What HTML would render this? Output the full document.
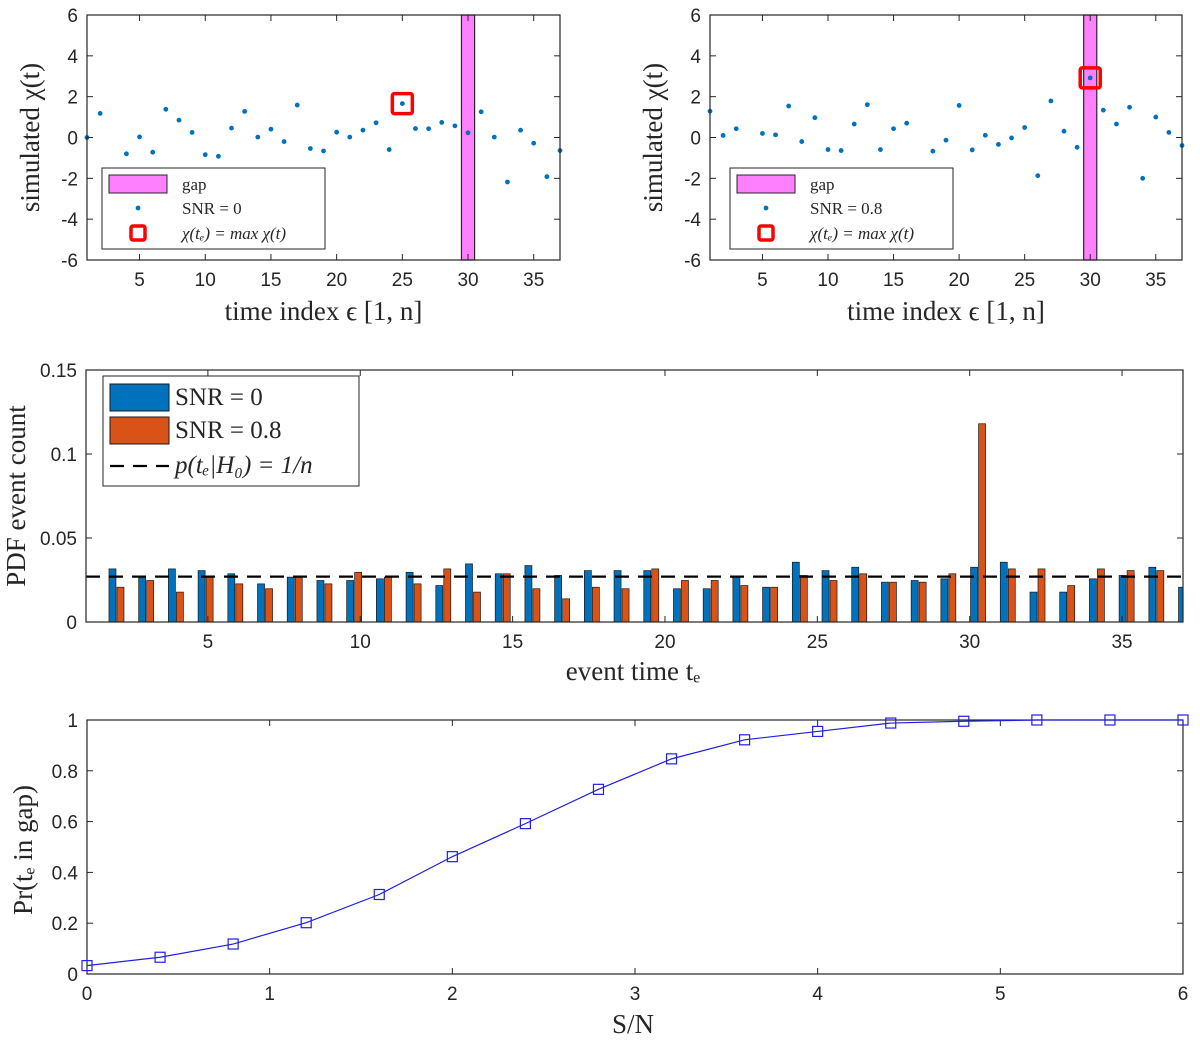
<!DOCTYPE html>
<html><head><meta charset="utf-8">
<style>
body{margin:0;background:#fff;}
svg{display:block;}
.tk{font-family:"Liberation Sans",sans-serif;font-size:19px;fill:#262626;}
.lb{font-family:"Liberation Serif",serif;fill:#262626;}
</style></head>
<body>
<svg id="fig" width="1200" height="1050" viewBox="0 0 1200 1050"></svg>
<script>
// ---- data ----
const tIdx = [1,2,3,4,5,6,7,8,9,10,11,12,13,14,15,16,17,18,19,20,21,22,23,24,25,26,27,28,29,30,31,32,33,34,35,36,37];
const chiSnr0 = [0,1.18,null,-0.8,0.03,-0.72,1.38,0.85,0.25,-0.84,-0.92,0.46,1.28,0.02,0.41,-0.2,1.59,-0.54,-0.66,0.26,0.02,0.36,0.72,-0.59,1.66,0.44,0.43,0.74,0.57,0.23,1.26,0.02,-2.18,0.36,-0.28,-1.92,-0.64];
const chiSnr08 = [1.29,0.1,0.43,null,0.2,0.13,1.54,-0.2,0.97,-0.59,-0.64,0.66,1.61,-0.59,0.43,0.70,null,-0.67,-0.13,1.57,-0.61,0.11,-0.34,-0.02,0.49,-1.87,1.79,0.31,-0.48,2.92,1.34,0.66,1.48,-2.0,1.0,0.25,-0.39];
const maxIdx0 = 25, maxIdx08 = 30;
const gapT = 30;
const scatterYTicks = [-6,-4,-2,0,2,4,6];
const scatterXTicks = [5,10,15,20,25,30,35];
const pdfSnr0 = [.0316,.0267,.0316,.0306,.0287,.0227,.0267,.0247,.0247,.0257,.0296,.0217,.0346,.0287,.0336,.0277,.0306,.0306,.0306,.0198,.0198,.0271,.0207,.0356,.0306,.0326,.0237,.0247,.0257,.0326,.0356,.0178,.0178,.0257,.0277,.0326,.0207];
const pdfSnr08 = [.0207,.0247,.0178,.0273,.0227,.0198,.0273,.0227,.0296,.0267,.0227,.0316,.0178,.0287,.0198,.0138,.0207,.0198,.0316,.0247,.0247,.0217,.0207,.0277,.0247,.0287,.0237,.0237,.0287,.118,.0316,.0316,.0217,.0316,.0306,.0306,null];
const nullLevel = 1/37;
const pdfYTicks = [0,0.05,0.1,0.15];
const pdfYLabels = ["0","0.05","0.1","0.15"];
const snrVals = [0,0.4,0.8,1.2,1.6,2.0,2.4,2.8,3.2,3.6,4.0,4.4,4.8,5.2,5.6,6.0];
const prGap = [0.033,0.066,0.118,0.202,0.313,0.462,0.592,0.727,0.847,0.922,0.955,0.988,0.995,1.0,1.0,1.0];
const prXTicks = [0,1,2,3,4,5,6];
const prYTicks = [0,0.2,0.4,0.6,0.8,1];

const NS="http://www.w3.org/2000/svg";
const svg=document.getElementById('fig');
function mk(tag,attrs,parent,text){const e=document.createElementNS(NS,tag);for(const k in attrs)e.setAttribute(k,attrs[k]);if(text!==undefined)e.textContent=text;(parent||svg).appendChild(e);return e;}
function lin(d0,d1,r0,r1){return v=>r0+(v-d0)*(r1-r0)/(d1-d0);}

function axesBox(g,L,T,R,B){
  const r=mk('rect',{x:L,y:T,width:R-L,height:B-T,fill:'none',stroke:'#262626','stroke-width':1.2},g);
  
  
}
function xTicks(g,ticks,xs,T,B,labels){
  ticks.forEach((t,i)=>{
    const x=xs(t);
    mk('line',{x1:x,y1:B,x2:x,y2:B-6,stroke:'#262626','stroke-width':1},g);
    mk('line',{x1:x,y1:T,x2:x,y2:T+6,stroke:'#262626','stroke-width':1},g);
    const tx=mk('text',{x:x,y:B+26,'text-anchor':'middle',class:'tk'},g,labels?labels[i]:String(t));
    
    
  });
}
function yTicks(g,ticks,ys,L,R,labels){
  ticks.forEach((t,i)=>{
    const y=ys(t);
    mk('line',{x1:L,y1:y,x2:L+6,y2:y,stroke:'#262626','stroke-width':1},g);
    mk('line',{x1:R,y1:y,x2:R-6,y2:y,stroke:'#262626','stroke-width':1},g);
    const tx=mk('text',{x:L-9,y:y+7,'text-anchor':'end',class:'tk'},g,labels?labels[i]:String(t));
    
    
  });
}

// ---- scatter panels ----
function scatter(L,R,vals,maxIdx,snrText,name,legL){
  const T=15,B=260;
  const g=mk('g',{});
  
  
  const xs=lin(1,37,L,R), ys=lin(-6,6,B,T);
  const gap=mk('rect',{x:xs(gapT-0.5),y:T,width:xs(gapT+0.5)-xs(gapT-0.5),height:B-T,fill:'#ff80ff',stroke:'#262626','stroke-width':1.2},g);
  
  
  tIdx.forEach((t,i)=>{
    if(vals[i]===null)return;
    const c=mk('circle',{cx:xs(t),cy:ys(vals[i]),r:2.4,fill:'#0072BD'},g);
    
    
  });
  const mi=tIdx.indexOf(maxIdx);
  const m=mk('rect',{x:xs(maxIdx)-10,y:ys(vals[mi])-10,width:20,height:20,rx:2,fill:'none',stroke:'#ff0000','stroke-width':3.5},g);
  
  
  axesBox(g,L,T,R,B);
  xTicks(g,scatterXTicks,xs,T,B);
  yTicks(g,scatterYTicks,ys,L,R);
  const lg=mk('g',{},g);
  
  
  mk('rect',{x:legL,y:168,width:223,height:81,fill:'#fff',stroke:'#262626','stroke-width':1},lg);
  mk('rect',{x:legL+7,y:175,width:58,height:18,fill:'#ff80ff',stroke:'#262626','stroke-width':1},lg);
  mk('text',{x:legL+80,y:190,class:'lb','font-size':17},lg,'gap');
  mk('circle',{cx:legL+36,cy:208,r:2.4,fill:'#0072BD'},lg);
  mk('text',{x:legL+80,y:214,class:'lb','font-size':17},lg,snrText);
  mk('rect',{x:legL+29,y:226,width:14,height:14,rx:2,fill:'none',stroke:'#ff0000','stroke-width':3.5},lg);
  mk('text',{x:legL+80,y:239,class:'lb','font-size':17,'font-style':'italic'},lg,'χ(tₑ) = max χ(t)');
  const yl=mk('text',{x:0,y:0,class:'lb','font-size':27,'text-anchor':'middle',transform:`translate(${L-48},${(T+B)/2}) rotate(-90)`},g,'simulated χ(t)');
  
  
  const xl=mk('text',{x:(L+R)/2,y:320,class:'lb','font-size':27,'text-anchor':'middle'},g,'time index ϵ [1, n]');
  
  
}
scatter(87,560,chiSnr0,maxIdx0,'SNR = 0','scatter-snr0',102);
scatter(710,1182,chiSnr08,maxIdx08,'SNR = 0.8','scatter-snr08',730);

// ---- PDF bar chart ----
(function(){
  const L=86,R=1183,T=370,B=622;
  const g=mk('g',{});
  
  
  const xs=lin(1,37,L,R), ys=lin(0,0.15,B,T);
  const clip=mk('clipPath',{id:'pclip'},g);
  mk('rect',{x:L,y:T,width:R-L,height:B-T},clip);
  const bars=mk('g',{'clip-path':'url(#pclip)'},g);
  tIdx.forEach((t,i)=>{
    const c=xs(2+i*35.1/36);
    const v0=pdfSnr0[i], v1=pdfSnr08[i];
    if(v0!==null){
      const b=mk('rect',{x:c-7.5,y:ys(v0),width:7,height:ys(0)-ys(v0),fill:'#0072BD',stroke:'#1a1a1a','stroke-width':0.7},bars);
      
      
    }
    if(v1!==null){
      const b=mk('rect',{x:c+0.5,y:ys(v1),width:7,height:ys(0)-ys(v1),fill:'#D95319',stroke:'#1a1a1a','stroke-width':0.7},bars);
      
      
    }
  });
  const dl=mk('line',{x1:L,x2:R,y1:ys(nullLevel),y2:ys(nullLevel),stroke:'#000','stroke-width':2.2,'stroke-dasharray':'14,9'},g);
  
  
  axesBox(g,L,T,R,B);
  xTicks(g,[5,10,15,20,25,30,35],xs,T,B);
  yTicks(g,pdfYTicks,ys,L,R,pdfYLabels);
  const lg=mk('g',{},g);
  
  
  mk('rect',{x:103,y:376,width:256,height:110,fill:'#fff',stroke:'#262626','stroke-width':1},lg);
  mk('rect',{x:110,y:384,width:59,height:27,fill:'#0072BD',stroke:'#1a1a1a','stroke-width':1},lg);
  mk('text',{x:175,y:405,class:'lb','font-size':25},lg,'SNR = 0');
  mk('rect',{x:110,y:417,width:59,height:27,fill:'#D95319',stroke:'#1a1a1a','stroke-width':1},lg);
  mk('text',{x:175,y:438,class:'lb','font-size':25},lg,'SNR = 0.8');
  mk('line',{x1:110,x2:169,y1:466,y2:466,stroke:'#000','stroke-width':2.2,'stroke-dasharray':'14,9'},lg);
  mk('text',{x:175,y:473,class:'lb','font-size':25,'font-style':'italic'},lg,'p(tₑ|H₀) = 1/n');
  const yl=mk('text',{x:0,y:0,class:'lb','font-size':27,'text-anchor':'middle',transform:`translate(25,${(T+B)/2}) rotate(-90)`},g,'PDF event count');
  
  
  const xl=mk('text',{x:633,y:680,class:'lb','font-size':27,'text-anchor':'middle'},g,'event time tₑ');
  
  
})();

// ---- probability curve ----
(function(){
  const L=87,R=1183,T=720,B=974;
  const g=mk('g',{});
  
  
  const xs=lin(0,6,L,R), ys=lin(0,1,B,T);
  axesBox(g,L,T,R,B);
  xTicks(g,prXTicks,xs,T,B);
  yTicks(g,prYTicks,ys,L,R);
  const pts=snrVals.map((s,i)=>xs(s)+','+ys(prGap[i])).join(' ');
  const pl=mk('polyline',{points:pts,fill:'none',stroke:'#2020e0','stroke-width':1.2},g);
  
  
  snrVals.forEach((s,i)=>{
    const m=mk('rect',{x:xs(s)-5,y:ys(prGap[i])-5,width:10,height:10,fill:'none',stroke:'#2020e0','stroke-width':1.2},g);
    
    
  });
  const yl=mk('text',{x:0,y:0,class:'lb','font-size':27,'text-anchor':'middle',transform:`translate(32,${(T+B)/2+3}) rotate(-90)`},g,'Pr(tₑ in gap)');
  
  
  const xl=mk('text',{x:633,y:1033,class:'lb','font-size':27,'text-anchor':'middle'},g,'S/N');
  
  
})();
</script>
</body></html>
